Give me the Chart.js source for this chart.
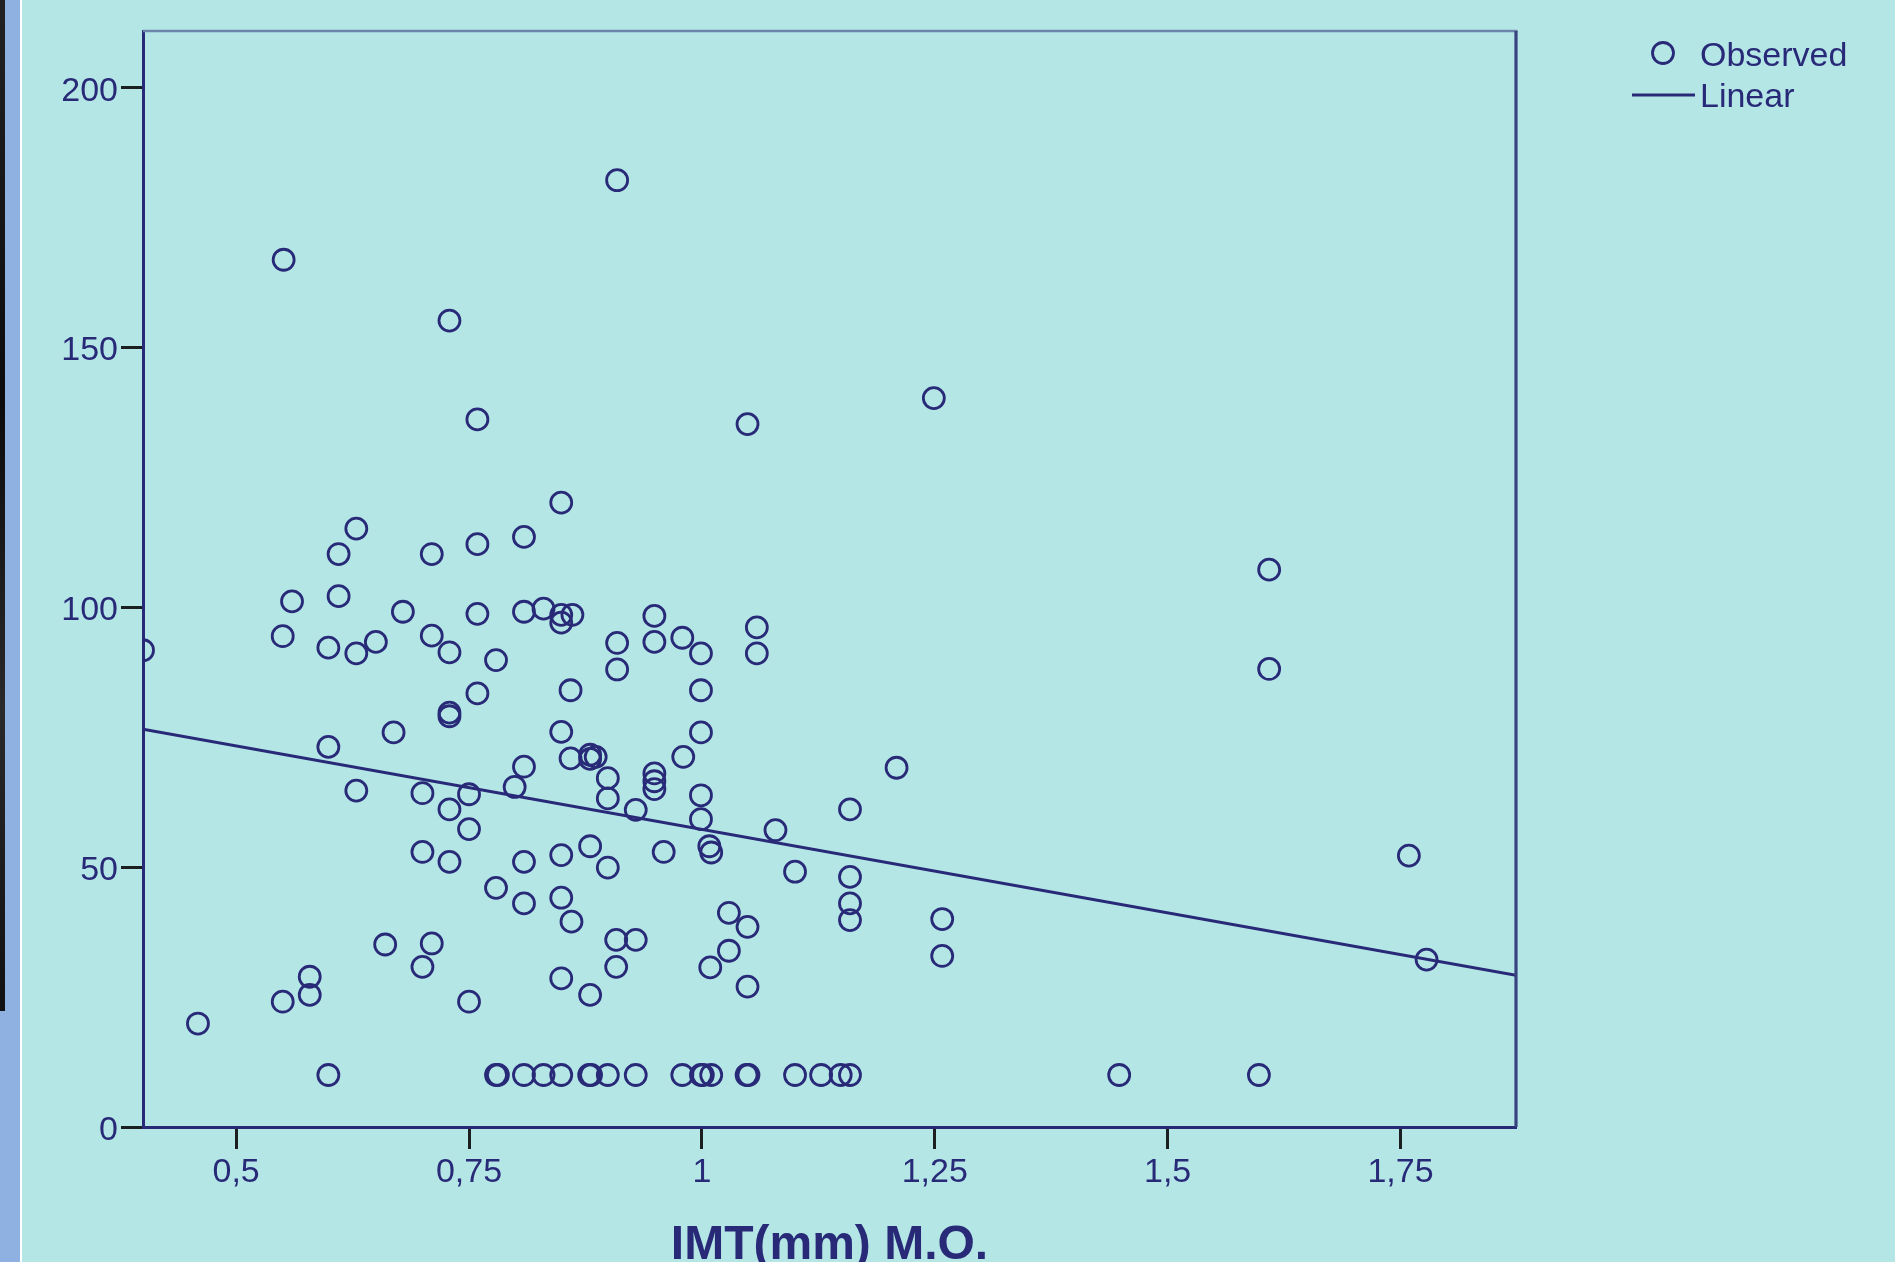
<!DOCTYPE html>
<html>
<head>
<meta charset="utf-8">
<title>IMT scatter</title>
<script src="https://cdn.jsdelivr.net/npm/chart.js@4.4.0/dist/chart.umd.min.js"></script>
<style>
  html, body { margin: 0; padding: 0; background: #b4e6e6; overflow: hidden; }
  #wrap { position: relative; width: 1895px; height: 1262px; }
  #edgeBlue { position: absolute; left: 0; top: 0; width: 20px; height: 1262px; background: #8fb1e2; }
  #edgeDark { position: absolute; left: 0; top: 0; width: 5px; height: 1011px; background: linear-gradient(#222, #0c0c0c 40%, #2a2a2a 70%, #111); }
  #edgeWhite { position: absolute; left: 20px; top: 0; width: 2px; height: 1262px; background: #ffffff; }
  canvas { position: absolute; left: 0; top: 0; }
</style>
</head>
<body>
<div id="wrap">
  <canvas id="chart" width="1895" height="1262"></canvas>
  <div id="edgeBlue"></div>
  <div id="edgeDark"></div>
  <div id="edgeWhite"></div>
</div>
<script>
// Observed values (IMT in mm on x)
const imt = [
  0.909, 0.551, 0.729, 0.759, 1.049, 1.249, 0.849, 0.629, 0.809, 0.759,
  0.610, 0.710, 1.609, 1.609, 0.560, 0.610, 0.679, 0.759, 0.809, 0.830,
  0.849, 0.849, 0.861, 0.949, 0.550, 0.599, 0.629, 0.650, 0.710, 0.729,
  0.779, 0.400, 0.909, 0.909, 0.949, 0.979, 0.999, 1.059, 1.059, 0.759,
  0.859, 0.999, 0.729, 0.729, 0.669, 0.849, 0.999, 0.599, 0.859, 0.880,
  0.880, 0.886, 0.980, 0.809, 1.209, 0.899, 0.949, 0.949, 0.949, 0.799,
  0.629, 0.700, 0.750, 0.899, 0.999, 0.729, 0.929, 1.159, 0.999, 0.750,
  1.079, 0.880, 1.008, 1.010, 0.959, 0.700, 0.849, 0.729, 0.809, 1.759,
  0.899, 1.100, 1.159, 0.779, 0.849, 0.809, 1.159, 1.029, 1.159, 1.258,
  0.860, 1.049, 0.908, 0.929, 0.660, 0.710, 1.029, 1.258, 1.778, 0.700,
  0.908, 1.009, 0.579, 0.849, 1.049, 0.579, 0.880, 0.550, 0.750, 0.459,
  0.599, 0.779, 0.781, 0.809, 0.830, 0.849, 0.879, 0.881, 0.899, 0.929,
  0.979, 0.999, 1.001, 1.010, 1.048, 1.050, 1.100, 1.128, 1.149, 1.159,
  1.448, 1.598
];
const outcome = [
  182.1, 166.8, 155.1, 136.1, 135.2, 140.2, 120.1, 115.1, 113.5, 112.1,
  110.2, 110.2, 107.2, 88.1, 101.1, 102.1, 99.1, 98.7, 99.1, 99.7,
  98.5, 97.0, 98.5, 98.3, 94.4, 92.2, 91.1, 93.3, 94.5, 91.3,
  89.8, 91.7, 93.1, 88.0, 93.3, 94.1, 91.1, 96.1, 91.1, 83.4,
  84.0, 84.0, 79.7, 79.0, 75.9, 76.0, 75.9, 73.1, 70.9, 71.6,
  70.8, 71.2, 71.2, 69.3, 69.1, 67.1, 68.0, 66.5, 65.0, 65.4,
  64.7, 64.2, 64.0, 63.2, 63.8, 61.1, 61.0, 61.1, 59.2, 57.3,
  57.1, 54.0, 54.0, 52.8, 52.9, 52.9, 52.3, 51.0, 51.0, 52.2,
  49.9, 49.1, 48.1, 46.0, 44.1, 43.0, 43.0, 41.2, 39.8, 40.0,
  39.5, 38.5, 36.0, 36.0, 35.1, 35.3, 33.9, 32.9, 32.2, 30.8,
  30.8, 30.7, 28.9, 28.6, 27.0, 25.4, 25.4, 24.1, 24.1, 19.9,
  10, 10, 10, 10, 10, 10, 10, 10, 10, 10,
  10, 10, 10, 10, 10, 10, 10, 10, 10, 10,
  10, 10
];

// Linear fit, read at both ends of the x range
const fitX = [0.4, 1.874];
const fitY = [76.5, 29.2];

const xRange = [0.4, 1.874];
const yRange = [0, 210.8];
const xTicks = [0.5, 0.75, 1, 1.25, 1.5, 1.75];
const yTicks = [0, 50, 100, 150, 200];

const NAVY = '#282a78';
const TICK = '#1c1f1f';
const FONT = "'Liberation Sans', Arial, sans-serif";

const observed = imt.map((x, i) => ({ x: x, y: outcome[i] }));
const fitLine = fitX.map((x, i) => ({ x: x, y: fitY[i] }));

// top and right edges of the plot box
const framePlugin = {
  id: 'frame',
  afterDraw(chart) {
    const { ctx, chartArea: a } = chart;
    ctx.save();
    ctx.lineWidth = 2.5;
    ctx.strokeStyle = '#6b86aa';
    ctx.beginPath();
    ctx.moveTo(a.left, a.top);
    ctx.lineTo(a.right + 1.5, a.top);
    ctx.stroke();
    ctx.lineWidth = 3.2;
    ctx.strokeStyle = '#37427f';
    ctx.beginPath();
    ctx.moveTo(a.right, a.top);
    ctx.lineTo(a.right, a.bottom);
    ctx.stroke();
    ctx.restore();
  }
};

// legend sits outside the plot, top right
const legendPlugin = {
  id: 'sideLegend',
  afterDraw(chart) {
    const ctx = chart.ctx;
    const ds = chart.data.datasets;
    ctx.save();
    ctx.font = '34px ' + FONT;
    ctx.fillStyle = NAVY;
    ctx.textBaseline = 'middle';
    ctx.textAlign = 'left';

    ctx.strokeStyle = NAVY;
    ctx.lineWidth = 2.8;
    ctx.beginPath();
    ctx.arc(1663, 53, 10.5, 0, Math.PI * 2);
    ctx.stroke();
    ctx.fillText(ds[0].label, 1700, 57);

    ctx.lineWidth = 3;
    ctx.beginPath();
    ctx.moveTo(1632, 95);
    ctx.lineTo(1695, 95);
    ctx.stroke();
    ctx.fillText(ds[1].label, 1700, 98);
    ctx.restore();
  }
};

const commaLabel = v => String(v).replace('.', ',');

new Chart(document.getElementById('chart'), {
  type: 'scatter',
  data: {
    datasets: [
      {
        label: 'Observed',
        data: observed,
        pointStyle: 'circle',
        pointRadius: 10.5,
        pointHoverRadius: 10.5,
        pointBorderWidth: 2.8,
        borderColor: NAVY,
        backgroundColor: 'rgba(0,0,0,0)',
        order: 2
      },
      {
        label: 'Linear',
        data: fitLine,
        showLine: true,
        borderColor: NAVY,
        borderWidth: 3,
        pointRadius: 0,
        pointHoverRadius: 0,
        fill: false,
        order: 1
      }
    ]
  },
  options: {
    responsive: false,
    animation: false,
    events: [],
    layout: { padding: { top: 31, right: 379, left: 0, bottom: 0 } },
    plugins: {
      legend: { display: false },
      tooltip: { enabled: false }
    },
    scales: {
      x: {
        type: 'linear',
        min: xRange[0],
        max: xRange[1],
        afterFit: s => { s.height = 135; },
        afterBuildTicks: s => { s.ticks = xTicks.map(v => ({ value: v })); },
        ticks: {
          autoSkip: false,
          maxRotation: 0,
          padding: 3,
          color: NAVY,
          font: { family: FONT, size: 34 },
          callback: commaLabel
        },
        grid: {
          display: true,
          drawOnChartArea: false,
          drawTicks: true,
          tickLength: 22,
          tickWidth: 3,
          tickColor: TICK
        },
        border: { display: true, color: NAVY, width: 3 },
        title: {
          display: true,
          text: 'IMT(mm) M.O.',
          color: NAVY,
          font: { family: FONT, size: 48, weight: 'bold', lineHeight: 0.66 },
          padding: { top: 0, bottom: 0 }
        }
      },
      y: {
        type: 'linear',
        min: yRange[0],
        max: yRange[1],
        afterFit: s => { s.width = 143; },
        afterBuildTicks: s => { s.ticks = yTicks.map(v => ({ value: v })); },
        ticks: {
          autoSkip: false,
          padding: 3,
          labelOffset: 4,
          color: NAVY,
          font: { family: FONT, size: 34 }
        },
        grid: {
          display: true,
          drawOnChartArea: false,
          drawTicks: true,
          tickLength: 22,
          tickWidth: 3,
          tickColor: TICK
        },
        border: { display: true, color: NAVY, width: 3 }
      }
    }
  },
  plugins: [framePlugin, legendPlugin]
});
</script>
</body>
</html>
